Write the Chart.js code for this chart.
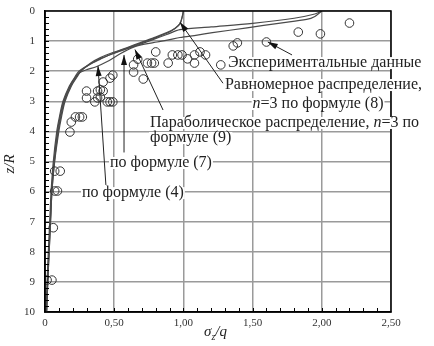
<!DOCTYPE html>
<html>
<head>
<meta charset="utf-8">
<script src="https://cdn.jsdelivr.net/npm/chart.js@4.4.1/dist/chart.umd.min.js"></script>
<style>
  html, body { margin: 0; padding: 0; background: #fff; }
</style>
</head>
<body>
<canvas id="chart" width="434" height="346"></canvas>
<script>
// axis ticks
const xTicks = [0, 0.5, 1.0, 1.5, 2.0, 2.5];
const yTicks = [0, 1, 2, 3, 4, 5, 6, 7, 8, 9, 10];

// experimental points (sigma_z/q, z/R)
const expSigma = [2.20, 1.99, 1.83, 1.60, 1.39, 1.36, 1.27, 1.16, 1.12, 1.08,
  1.08, 1.03, 0.92, 0.96, 0.99, 0.89, 0.80, 0.74, 0.77, 0.79,
  0.67, 0.71, 0.64, 0.64, 0.49, 0.47, 0.42, 0.40, 0.30, 0.30,
  0.38, 0.38, 0.42, 0.40, 0.36, 0.45, 0.47, 0.49, 0.22, 0.25,
  0.27, 0.19, 0.18, 0.07, 0.11, 0.07, 0.09, 0.06, 0.015, 0.05];
const expZ = [0.40, 0.76, 0.70, 1.03, 1.06, 1.16, 1.79, 1.46, 1.36, 1.46,
  1.73, 1.59, 1.46, 1.46, 1.46, 1.73, 1.36, 1.73, 1.73, 1.73,
  1.60, 2.26, 1.79, 2.03, 2.13, 2.23, 2.36, 2.62, 2.66, 2.89,
  2.66, 2.89, 2.66, 2.86, 3.02, 3.02, 3.02, 3.02, 3.52, 3.52,
  3.52, 3.69, 4.02, 5.32, 5.32, 5.98, 5.98, 7.20, 8.94, 8.94];

// uniform distribution, formula (8)
const sigUniform = [0.012, 0.02, 0.03, 0.04, 0.05, 0.07, 0.1, 0.12, 0.145, 0.19, 0.23, 0.26, 0.33, 0.40, 0.49, 0.59, 0.69, 0.78, 0.88, 0.94, 0.975, 0.99, 1.0];
const zUniform   = [10, 9, 8, 7, 6, 5, 4, 3.5, 3, 2.5, 2.2, 2, 1.73, 1.55, 1.38, 1.22, 1.05, 0.9, 0.72, 0.57, 0.42, 0.22, 0];

// formula (4)
const sigF4 = [0.008, 0.015, 0.024, 0.034, 0.044, 0.06, 0.085, 0.105, 0.13, 0.175, 0.215, 0.245, 0.32, 0.40, 0.49, 0.59, 0.69, 0.78, 0.88, 0.94, 0.975, 0.99, 1.0];
const zF4   = [10, 9, 8, 7, 6, 5, 4, 3.5, 3, 2.5, 2.2, 2, 1.78, 1.6, 1.41, 1.24, 1.07, 0.92, 0.74, 0.58, 0.43, 0.22, 0];

// formula (7)
const sigF7 = [0.012, 0.02, 0.03, 0.04, 0.05, 0.068, 0.095, 0.115, 0.14, 0.185, 0.225, 0.255, 0.33, 0.40, 0.49, 0.59, 0.69, 0.78, 0.88, 0.975, 1.2, 1.5, 1.8, 1.95, 2.0];
const zF7   = [10, 9, 8, 7, 6, 5, 4, 3.5, 3, 2.5, 2.2, 2, 1.76, 1.58, 1.42, 1.26, 1.1, 0.95, 0.78, 0.62, 0.53, 0.41, 0.24, 0.1, 0];

// parabolic distribution, formula (9)
const sigParab = [0.01, 0.018, 0.028, 0.038, 0.048, 0.065, 0.09, 0.11, 0.135, 0.18, 0.22, 0.25, 0.30, 0.37, 0.45, 0.54, 0.64, 0.72, 0.81, 0.9, 0.975, 1.1, 1.21, 1.46, 1.7, 1.89, 1.95, 2.0];
const zParab   = [10, 9, 8, 7, 6, 5, 4, 3.5, 3, 2.5, 2.2, 2.05, 1.95, 1.85, 1.68, 1.43, 1.2, 1.1, 1.03, 0.95, 0.88, 0.8, 0.72, 0.56, 0.4, 0.28, 0.18, 0];

const pts = (xs, ys) => xs.map((x, i) => ({ x: x, y: ys[i] }));

// labels: [sigma, z] of text start, leader from -> arrow tip
const notes = [
  { at: [1.322, 1.73], parts: [['Экспериментальные данные']] },
  { at: [1.30, 2.46], parts: [['Равномерное распределение,']] },
  { at: [1.50, 3.09], parts: [['n', 1], ['=3 по формуле (8)']] },
  { at: [0.759, 3.72], parts: [['Параболическое распределение, '], ['n', 1], ['=3 по']] },
  { at: [0.759, 4.22], parts: [['формуле (9)']] },
  { at: [0.47, 5.05], parts: [['по формуле (7)']] },
  { at: [0.267, 6.05], parts: [['по формуле (4)']] }
];
const leaders = [
  { from: [1.785, 1.46], to: [1.61, 1.03] },
  { from: [1.286, 2.40], to: [0.975, 0.37] },
  { from: [0.853, 3.29], to: [0.65, 1.28] },
  { from: [0.571, 4.70], to: [0.571, 1.46] },
  { from: [0.44, 5.78], to: [0.383, 1.83] }
];

const serif = '"Liberation Serif", "DejaVu Serif", serif';

function lineSet(label, data) {
  return {
    label: label,
    data: data,
    showLine: true,
    borderColor: '#4a4a4a',
    borderWidth: 1.2,
    pointRadius: 0,
    tension: 0.3,
    fill: false
  };
}

const annotate = {
  id: 'annotate',
  afterDatasetsDraw(chart) {
    const ctx = chart.ctx;
    const xs = chart.scales.x, ys = chart.scales.y;
    const a = chart.chartArea;
    const px = v => xs.getPixelForValue(v), py = v => ys.getPixelForValue(v);

    ctx.save();
    // minor ticks, inside the frame
    ctx.strokeStyle = '#000';
    ctx.lineWidth = 1;
    for (let i = 1; i < 25; i++) {
      const x = Math.round(px(i / 10)) + 0.5;
      ctx.beginPath(); ctx.moveTo(x, a.bottom); ctx.lineTo(x, a.bottom - 4); ctx.stroke();
    }
    for (let i = 1; i < 50; i++) {
      const y = Math.round(py(i / 5)) + 0.5;
      ctx.beginPath(); ctx.moveTo(a.left, y); ctx.lineTo(a.left + 4, y); ctx.stroke();
    }
    // frame
    ctx.lineWidth = 1.5;
    ctx.strokeRect(a.left, a.top, a.right - a.left, a.bottom - a.top);

    // text labels
    ctx.textBaseline = 'middle';
    notes.forEach(n => {
      let x = px(n.at[0]);
      const y = py(n.at[1]);
      let w = 0;
      n.parts.forEach(p => {
        ctx.font = (p[1] ? 'italic ' : '') + '16px ' + serif;
        w += ctx.measureText(p[0]).width;
      });
      ctx.fillStyle = '#fff';
      ctx.fillRect(x - 1, y - 6, w + 2, 12);
      ctx.fillStyle = '#222';
      n.parts.forEach(p => {
        ctx.font = (p[1] ? 'italic ' : '') + '16px ' + serif;
        ctx.fillText(p[0], x, y);
        x += ctx.measureText(p[0]).width;
      });
    });

    // leader lines with arrow heads
    ctx.strokeStyle = '#222';
    ctx.fillStyle = '#111';
    ctx.lineWidth = 1;
    leaders.forEach(l => {
      const x0 = px(l.from[0]), y0 = py(l.from[1]);
      const x1 = px(l.to[0]), y1 = py(l.to[1]);
      const ang = Math.atan2(y1 - y0, x1 - x0);
      ctx.beginPath(); ctx.moveTo(x0, y0); ctx.lineTo(x1, y1); ctx.stroke();
      ctx.beginPath();
      ctx.moveTo(x1, y1);
      ctx.lineTo(x1 - 10 * Math.cos(ang) + 3 * Math.sin(ang), y1 - 10 * Math.sin(ang) - 3 * Math.cos(ang));
      ctx.lineTo(x1 - 10 * Math.cos(ang) - 3 * Math.sin(ang), y1 - 10 * Math.sin(ang) + 3 * Math.cos(ang));
      ctx.closePath();
      ctx.fill();
    });

    // axis titles
    ctx.fillStyle = '#222';
    ctx.textBaseline = 'alphabetic';
    ctx.font = 'italic 15px ' + serif;
    let tx = 204;
    ctx.fillText('σ', tx, 336); tx += ctx.measureText('σ').width;
    ctx.font = 'italic 10px ' + serif;
    ctx.fillText('z', tx, 340); tx += ctx.measureText('z').width;
    ctx.font = 'italic 15px ' + serif;
    ctx.fillText('/q', tx, 336);

    ctx.translate(10, 164);
    ctx.rotate(-Math.PI / 2);
    ctx.textAlign = 'center';
    ctx.textBaseline = 'middle';
    ctx.fillText('z/R', 0, 0);
    ctx.restore();
  }
};

new Chart(document.getElementById('chart'), {
  type: 'scatter',
  data: {
    datasets: [
      {
        label: 'Экспериментальные данные',
        data: pts(expSigma, expZ),
        pointStyle: 'circle',
        pointRadius: 4.3,
        borderColor: '#333',
        borderWidth: 1,
        backgroundColor: 'rgba(255,255,255,0)'
      },
      lineSet('Равномерное распределение', pts(sigUniform, zUniform)),
      lineSet('по формуле (4)', pts(sigF4, zF4)),
      lineSet('по формуле (7)', pts(sigF7, zF7)),
      lineSet('Параболическое распределение', pts(sigParab, zParab))
    ]
  },
  options: {
    responsive: false,
    animation: false,
    layout: { padding: { top: 11, right: 43, left: 0, bottom: 0 } },
    plugins: { legend: { display: false }, tooltip: { enabled: false } },
    scales: {
      x: {
        type: 'linear',
        min: 0, max: 2.5,
        afterFit: s => { s.height = 34; s.paddingLeft = 0; s.paddingRight = 0; },
        afterBuildTicks: s => { s.ticks = xTicks.map(v => ({ value: v })); },
        ticks: {
          padding: 5,
          color: '#333',
          font: { family: serif, size: 11 },
          callback: v => v === 0 ? '0' : v.toFixed(2).replace('.', ',')
        },
        grid: { color: '#9a9a9a', lineWidth: 1.5, drawTicks: false },
        border: { color: '#000', width: 1.5 }
      },
      y: {
        type: 'linear',
        reverse: true,
        min: 0, max: 10,
        afterFit: s => { s.width = 45; s.paddingTop = 0; s.paddingBottom = 0; },
        afterBuildTicks: s => { s.ticks = yTicks.map(v => ({ value: v })); },
        ticks: {
          padding: 10,
          color: '#333',
          font: { family: serif, size: 11 },
          callback: v => String(v)
        },
        grid: { color: '#9a9a9a', lineWidth: 1.5, drawTicks: false },
        border: { color: '#000', width: 1.5 }
      }
    }
  },
  plugins: [annotate]
});
</script>
</body>
</html>
